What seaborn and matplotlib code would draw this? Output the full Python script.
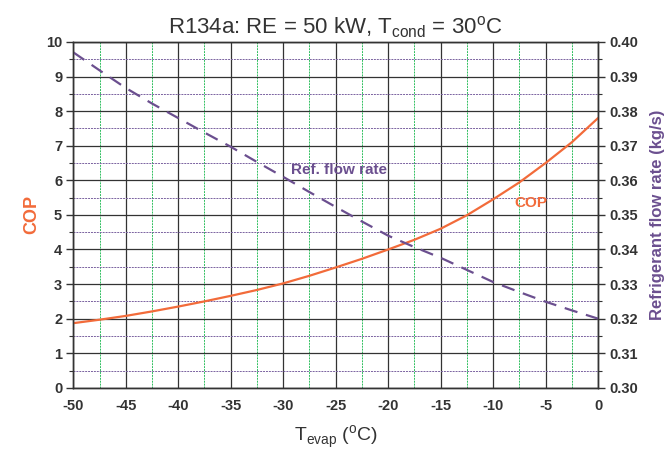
import numpy as np
import pandas as pd
import matplotlib.pyplot as plt
import seaborn as sns
from matplotlib.ticker import MultipleLocator

# ── Data ──────────────────────────────────────────────────────────────────────
t_evap    = [-50, -47.5, -45, -42.5, -40, -37.5, -35, -32.5, -30, -27.5, -25,
             -22.5, -20, -17.5, -15, -12.5, -10, -7.5, -5, -2.5, 0]
cop       = [1.87, 1.97, 2.08, 2.21, 2.35, 2.50, 2.66, 2.83, 3.02, 3.24, 3.48,
             3.73, 4.00, 4.28, 4.60, 4.99, 5.45, 5.94, 6.50, 7.10, 7.80]
flow_rate = [0.397, 0.3918, 0.3867, 0.3822, 0.378, 0.3738, 0.3697, 0.3653,
             0.361, 0.3566, 0.3523, 0.3481, 0.344, 0.3407, 0.3376, 0.3341,
             0.3306, 0.3277, 0.3249, 0.3224, 0.320]

ORANGE = "#f26b3a"
PURPLE = "#6b4f8f"

df = pd.DataFrame({"t": t_evap, "cop": cop, "flow": flow_rate})

sns.set_style("white")
plt.rcParams["font.family"] = ["Liberation Sans", "DejaVu Sans"]
plt.rcParams["axes.unicode_minus"] = False

fig = plt.figure(figsize=(6.66, 4.51), dpi=100)
ax = fig.add_axes([0.110, 0.140, 0.788, 0.767])
ax2 = ax.twinx()

# ── Grid ──────────────────────────────────────────────────────────────────────
ax.set_xlim(-50, 0)
ax.set_ylim(0, 10)
ax.xaxis.set_major_locator(MultipleLocator(5))
ax.xaxis.set_minor_locator(MultipleLocator(2.5))
ax.yaxis.set_major_locator(MultipleLocator(1))
ax.yaxis.set_minor_locator(MultipleLocator(0.5))
ax.grid(which="major", color="#333333", lw=0.9)
ax.grid(which="minor", axis="x", color="#2fbf5f", lw=0.7, ls=(0, (2, 1)))
ax.grid(which="minor", axis="y", color="#7a62a0", lw=0.7, ls=(0, (2, 1)))
ax.set_axisbelow(True)

# ── Curves ────────────────────────────────────────────────────────────────────
sns.lineplot(data=df, x="t", y="cop", ax=ax, color=ORANGE, lw=1.6)
sns.lineplot(data=df, x="t", y="flow", ax=ax2, color=PURPLE, lw=1.6,
             linestyle=(0, (6, 4)))
ax2.set_ylim(0.30, 0.40)
ax2.yaxis.set_major_locator(MultipleLocator(0.01))
ax2.yaxis.set_minor_locator(MultipleLocator(0.005))
ax2.yaxis.set_major_formatter(plt.FormatStrFormatter("%.2f"))

for a in (ax, ax2):
    for s in a.spines.values():
        s.set_color("#333333")
        s.set_linewidth(1.0)
    a.tick_params(which="major", direction="out", length=5, width=1.0,
                  color="#333333", labelsize=10.5, labelcolor="#333333")
    a.tick_params(which="minor", direction="out", length=3, width=0.8,
                  color="#333333")
    for lbl in a.get_xticklabels() + a.get_yticklabels():
        lbl.set_fontweight("bold")
ax.tick_params(axis="x", which="minor", length=0)
ax.tick_params(axis="both", which="major", pad=3)

# ── Labels ────────────────────────────────────────────────────────────────────
ax.set_xlabel(r"T$_{\mathregular{evap}}$ ($^{\mathregular{o}}$C)", fontsize=14,
              color="#333333", labelpad=8)
ax.set_ylabel("COP", fontsize=13, fontweight="bold", color=ORANGE, labelpad=12)
ax.yaxis.set_label_coords(-0.062, 0.5)
ax2.set_ylabel("Refrigerant flow rate (kg/s)", fontsize=12, fontweight="bold",
               color=PURPLE, labelpad=8)
ax.set_title(r"R134a: RE = 50 kW, T$_{\mathregular{cond}}$ = 30$^{\mathregular{o}}$C",
             fontsize=16, color="#333333", pad=6)

ax.text(-29.3, 6.3, "Ref. flow rate", color=PURPLE, fontsize=11,
        fontweight="bold", va="center")
ax.text(-8.0, 5.35, "COP", color=ORANGE, fontsize=11, fontweight="bold",
        va="center")

fig.savefig("out.png", dpi=100)
